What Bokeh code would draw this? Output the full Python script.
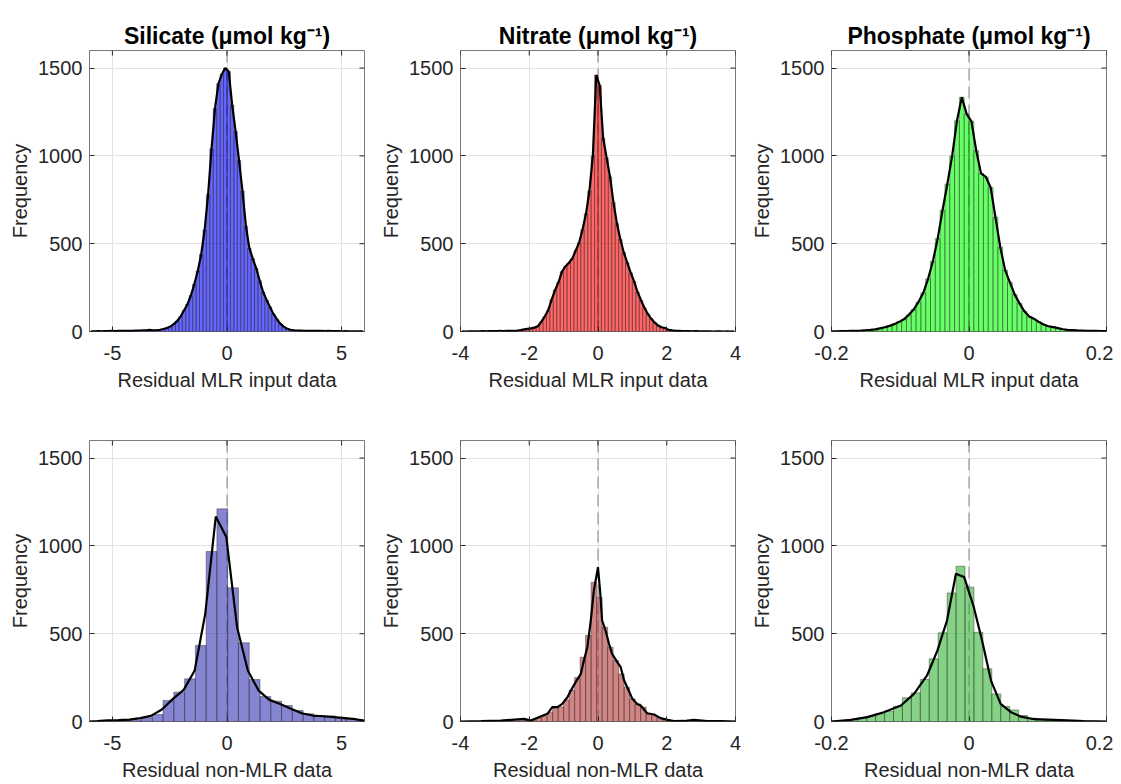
import numpy as np
from bokeh.plotting import figure
from bokeh.layouts import column, row
from bokeh.models import FixedTicker, Span
from bokeh.embed import file_html
from bokeh.resources import INLINE

# ---------------- data ----------------
titles = ["Silicate (μmol kg⁻¹)", "Nitrate (μmol kg⁻¹)", "Phosphate (μmol kg⁻¹)"]
xlabel_top = "Residual MLR input data"
xlabel_bot = "Residual non-MLR data"
x_limits = [(-6, 6), (-4, 4), (-0.2, 0.2)]
x_ticks = [[-5, 0, 5], [-4, -2, 0, 2, 4], [-0.2, 0, 0.2]]
x_tick_labels = [["-5", "0", "5"], ["-4", "-2", "0", "2", "4"], ["-0.2", "0", "0.2"]]
y_limits = (0, 1600)
y_ticks = [0, 500, 1000, 1500]
y_tick_labels = ["0", "500", "1000", "1500"]

# top row: histograms of MLR input residuals (first bin left edge, bin width, counts)
sil_top_start, sil_top_width = -6.0, 0.15
sil_top_counts = [1, 1, 2, 1, 2, 2, 3, 2, 3, 3, 4, 3, 4, 5, 5, 6, 7, 9, 7, 7,
                  10, 14, 20, 28, 42, 60, 85, 120, 155, 205, 270, 345, 440, 580, 780, 1040, 1270, 1410, 1465, 1500,
                  1480, 1290, 1140, 975, 800, 600, 475, 415, 360, 290, 225, 180, 140, 100, 70, 45, 28, 16, 10, 7,
                  5, 5, 4, 4, 3, 4, 3, 3, 2, 3, 2, 2, 2, 1, 2, 1, 1, 1, 1, 1]

nit_top_start, nit_top_width = -4.0, 0.1
nit_top_counts = [1, 0, 1, 1, 1, 1, 2, 1, 2, 2, 2, 3, 2, 3, 3, 3, 5, 8, 12, 15,
                  18, 22, 30, 55, 85, 120, 180, 235, 280, 340, 370, 390, 414, 460, 505, 580, 670, 800, 1000, 1460,
                  1400, 1100, 990, 880, 735, 615, 525, 450, 392, 335, 285, 225, 178, 135, 100, 72, 50, 34, 24, 20,
                  10, 6, 4, 3, 2, 2, 2, 1, 2, 1, 1, 1, 1, 0, 1, 1, 0, 1, 0, 1]

pho_top_start, pho_top_width = -0.203, 0.007
pho_top_counts = [1, 1, 2, 2, 3, 4, 5, 7, 9, 12, 18, 24, 32, 42, 55, 70, 95, 125, 168, 220,
                  300, 400, 530, 690, 840, 1000, 1200, 1334, 1239,
                  1197, 1030, 900, 880, 820, 650, 480, 350, 280, 210, 160, 115, 85, 72, 55, 40,
                  30, 25, 19, 13, 9, 8, 6, 5, 4, 4, 3, 2, 2]

# bottom row: histograms of non-MLR residuals
sil_bot_start, sil_bot_width = -6.08, 0.47
sil_bot_counts = [1, 2, 3, 5, 10, 21, 40, 120, 167, 243, 433, 968, 1211,
                  761, 448, 239, 142, 116, 91, 63, 44, 34, 32, 21, 13, 6]

nit_bot_start, nit_bot_width = -4.04, 0.16
nit_bot_counts = [0, 1, 0, 1, 1, 2, 1, 2, 2, 3, 4, 6, 8, 10, 20, 30, 53, 76, 84, 122, 178, 250, 366, 490, 793,
                  708, 537, 423, 347, 271, 195, 129, 100, 82, 44, 34, 19, 11, 6, 4, 3, 2, 2, 1, 1, 2, 1, 1, 0, 1, 0]

pho_bot_start, pho_bot_width = -0.2008, 0.013
pho_bot_counts = [4, 6, 11, 19, 28, 44, 59, 87, 135, 163, 239, 357, 505, 732, 884,
                  765, 508, 300, 157, 85, 66, 34, 19, 9, 8, 6, 4, 4, 4, 2, 2]

# bottom row: black frequency curves
sil_curve_x = [-6.0, -5.67, -5.2, -4.73, -4.26, -3.79, -3.32, -2.84, -2.36, -1.89, -1.41, -0.95, -0.49,
               -0.03, 0.44, 0.91, 1.38, 1.85, 2.32, 2.79, 3.26, 3.73, 4.2, 4.67, 5.14, 5.61, 6.0]
sil_curve_y = [0, 2, 6, 8, 11, 19, 32, 68, 129, 180, 290, 613, 1167,
               1050, 537, 290, 176, 123, 100, 72, 47, 34, 30, 25, 19, 13, 5]

nit_curve_x = [-4.0, -3.4, -2.83, -2.15, -1.96, -1.67, -1.47, -1.33, -1.18, -1.04, -0.89, -0.79, -0.65, -0.5,
               -0.41, -0.31, -0.21, -0.12, 0.0, 0.06, 0.12, 0.22, 0.32, 0.41, 0.56, 0.66, 0.76, 0.85, 1.0,
               1.14, 1.24, 1.43, 1.63, 1.82, 2.02, 2.21, 2.5, 2.79, 3.18, 3.6, 4.0]
nit_curve_y = [0, 2, 5, 15, 5, 28, 44, 82, 82, 100, 138, 176, 224, 271,
               347, 423, 575, 746, 878, 746, 575, 518, 442, 385, 338, 309, 233, 195, 129,
               100, 91, 47, 40, 19, 9, 2, 3, 9, 2, 2, 0]

pho_curve_x = [-0.2, -0.172, -0.148, -0.124, -0.099, -0.08, -0.061, -0.046, -0.032, -0.019, -0.007,
               0.007, 0.019, 0.032, 0.046, 0.061, 0.075, 0.095, 0.124, 0.143, 0.167, 0.2]
pho_curve_y = [0, 9, 25, 53, 91, 157, 262, 404, 575, 841, 822,
               651, 461, 233, 100, 53, 28, 13, 9, 6, 2, 0]

top_colors = ["#0000ff", "#ff0000", "#00ff00"]
bot_colors = ["#3333b3", "#b33333", "#33b333"]

FONT = "Liberation Sans"
TXT = "#262626"


def make_panel(title, xlabel, col, start, width, counts, color, top_row, curve_x=None, curve_y=None):
    counts = np.asarray(counts, dtype=float)
    left = start + width * np.arange(len(counts))
    right = left + width
    centers = left + width / 2
    xlo, xhi = x_limits[col]
    p = figure(frame_width=275, frame_height=281,
               x_range=x_limits[col], y_range=y_limits,
               output_backend="svg", toolbar_location=None,
               min_border_left=89, min_border_right=7,
               min_border_top=50 if top_row else 45,
               min_border_bottom=64 if top_row else 63,
               background_fill_color="white", border_fill_color="white")
    p.title.text = title
    p.title.align = "center"
    p.title.text_font = FONT
    p.title.text_font_size = "23px"
    p.title.text_font_style = "bold"
    p.title.text_color = "black"
    p.title.standoff = 4

    p.outline_line_color = "#7a7a7a"
    p.outline_line_width = 1

    p.xaxis.ticker = FixedTicker(ticks=x_ticks[col])
    p.xaxis.major_label_overrides = {t: s for t, s in zip(x_ticks[col], x_tick_labels[col])}
    p.yaxis.ticker = FixedTicker(ticks=y_ticks)
    p.yaxis.major_label_overrides = {t: s for t, s in zip(y_ticks, y_tick_labels)}
    p.xaxis.axis_label = xlabel
    p.yaxis.axis_label = "Frequency"
    for ax in (p.xaxis[0], p.yaxis[0]):
        ax.axis_line_color = None
        ax.major_tick_in = 5
        ax.major_tick_out = 0
        ax.major_tick_line_color = TXT
        ax.minor_tick_line_color = None
        ax.major_label_text_font = FONT
        ax.major_label_text_font_size = "20px"
        ax.major_label_text_color = TXT
        ax.axis_label_text_font = FONT
        ax.axis_label_text_font_size = "20px"
        ax.axis_label_text_font_style = "normal"
        ax.axis_label_text_color = TXT
    p.yaxis.major_label_standoff = 7
    p.yaxis.axis_label_standoff = 4
    p.xaxis.major_label_standoff = 14
    p.xaxis.axis_label_standoff = 6
    p.yaxis.major_label_orientation = "horizontal"

    p.xgrid.grid_line_color = "#e2e2e2"
    p.ygrid.grid_line_color = "#e2e2e2"

    zero = Span(location=0, dimension="height", line_color="#808080",
                line_width=1, line_dash="12 6", level="underlay")
    p.add_layout(zero)

    p.quad(left=left, right=right, bottom=0, top=counts,
           fill_color=color, fill_alpha=0.6,
           line_color="#262626", line_width=0.5, line_alpha=0.85)

    if curve_x is None:
        p.line(centers, counts, line_color="black", line_width=2.2)
    else:
        p.line(curve_x, curve_y, line_color="black", line_width=2.2)

    # mirrored inward ticks on the right and top edges (box on); the outer half is clipped by the frame
    p.scatter([xhi] * len(y_ticks), y_ticks, marker="dash", size=10,
              line_color=TXT, line_width=1)
    p.scatter(x_ticks[col], [y_limits[1]] * len(x_ticks[col]), marker="dash", size=10,
              angle=np.pi / 2, line_color=TXT, line_width=1)
    return p


p1 = make_panel(titles[0], xlabel_top, 0, sil_top_start, sil_top_width, sil_top_counts, top_colors[0], True)
p2 = make_panel(titles[1], xlabel_top, 1, nit_top_start, nit_top_width, nit_top_counts, top_colors[1], True)
p3 = make_panel(titles[2], xlabel_top, 2, pho_top_start, pho_top_width, pho_top_counts, top_colors[2], True)
p4 = make_panel("", xlabel_bot, 0, sil_bot_start, sil_bot_width, sil_bot_counts, bot_colors[0], False,
                sil_curve_x, sil_curve_y)
p5 = make_panel("", xlabel_bot, 1, nit_bot_start, nit_bot_width, nit_bot_counts, bot_colors[1], False,
                nit_curve_x, nit_curve_y)
p6 = make_panel("", xlabel_bot, 2, pho_bot_start, pho_bot_width, pho_bot_counts, bot_colors[2], False,
                pho_curve_x, pho_curve_y)

layout = column(row(p1, p2, p3), row(p4, p5, p6))

with open("out.html", "w") as f:
    f.write(file_html(layout, INLINE))
